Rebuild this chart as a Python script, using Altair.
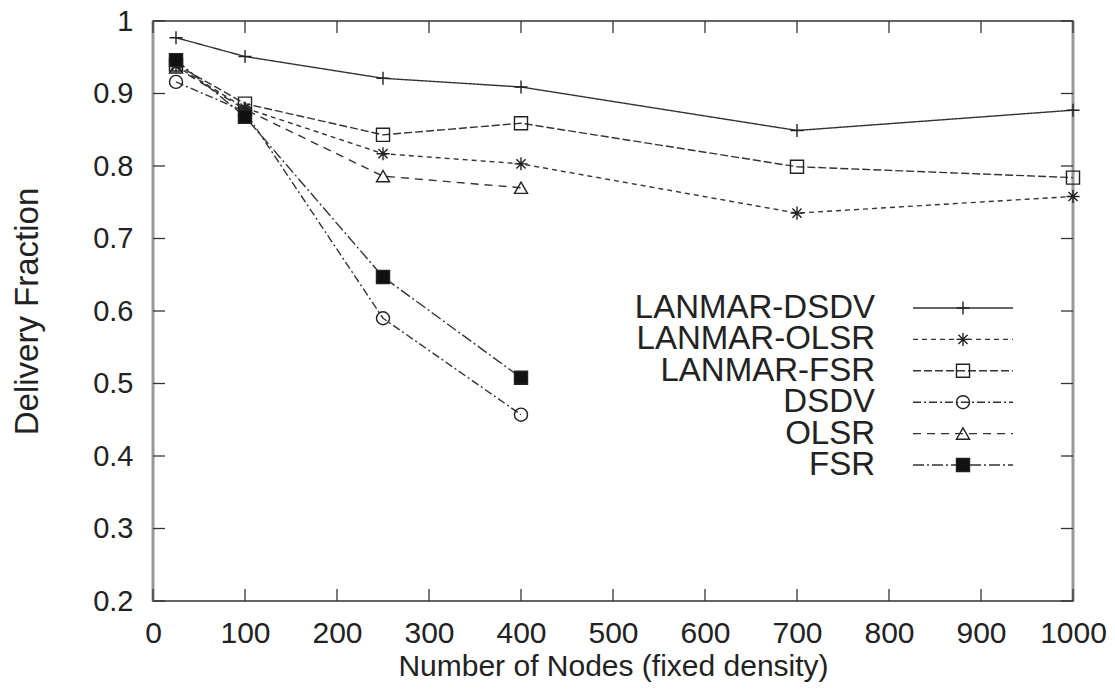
import altair as alt
import pandas as pd

series = ["LANMAR-DSDV", "LANMAR-OLSR", "LANMAR-FSR", "DSDV", "OLSR", "FSR"]
nodes_long = [25, 100, 250, 400, 700, 1000]
nodes_short = [25, 100, 250, 400]
lanmar_dsdv = [0.977, 0.951, 0.921, 0.909, 0.849, 0.877]
lanmar_olsr = [0.938, 0.880, 0.817, 0.803, 0.735, 0.758]
lanmar_fsr = [0.940, 0.886, 0.843, 0.859, 0.799, 0.784]
dsdv = [0.916, 0.875, 0.590, 0.457]
olsr = [0.936, 0.878, 0.786, 0.770]
fsr = [0.946, 0.868, 0.647, 0.508]
x_ticks = [0, 100, 200, 300, 400, 500, 600, 700, 800, 900, 1000]
y_ticks = [0.2, 0.3, 0.4, 0.5, 0.6, 0.7, 0.8, 0.9, 1.0]

rows = []
for name, xs, ys in [
    ("LANMAR-DSDV", nodes_long, lanmar_dsdv),
    ("LANMAR-OLSR", nodes_long, lanmar_olsr),
    ("LANMAR-FSR", nodes_long, lanmar_fsr),
    ("DSDV", nodes_short, dsdv),
    ("OLSR", nodes_short, olsr),
    ("FSR", nodes_short, fsr),
]:
    for xv, yv in zip(xs, ys):
        rows.append({"series": name, "nodes": xv, "frac": yv})
df = pd.DataFrame(rows)
leg_df = pd.DataFrame({"series": series})
xt_df = pd.DataFrame({"t": x_ticks})
yt_df = pd.DataFrame({"t": y_ticks})

W, H = 920, 580
FONT = "Liberation Sans"
INK = "#222"

xscale = alt.Scale(domain=[0, 1000], nice=False)
yscale = alt.Scale(domain=[0.2, 1.0], nice=False)

dash_scale = alt.Scale(domain=series, range=[[1, 0], [5, 4], [8, 3], [8, 3, 2, 3], [8, 6], [11, 3, 2, 3]])
shape_scale = alt.Scale(domain=series, range=[
    "M-1,0H1M0,-1V1",
    "M-1,0H1M0,-1V1M-0.7,-0.7L0.7,0.7M-0.7,0.7L0.7,-0.7",
    "square", "circle", "triangle-up", "square"])
fill_scale = alt.Scale(domain=series, range=["transparent", "transparent", "transparent",
                                             "transparent", "transparent", "#111"])

base = alt.Chart(df)
lines = base.mark_line(strokeWidth=1.4, color="#333").encode(
    x=alt.X("nodes:Q", scale=xscale,
            axis=alt.Axis(values=x_ticks, format="d", labelOverlap=False, labelFlush=False,
                          title="Number of Nodes (fixed density)", ticks=False,
                          domain=False, grid=False, labelPadding=17, labelFontSize=30,
                          titleFontSize=30, titleY=65, titleBaseline="middle")),
    y=alt.Y("frac:Q", scale=yscale,
            axis=alt.Axis(values=y_ticks, format="~g", labelOverlap=False, labelFlush=False,
                          title="Delivery Fraction", ticks=False,
                          domain=False, grid=False, labelPadding=20, labelFontSize=29,
                          titleFontSize=33, titleX=-126, titleBaseline="middle")),
    strokeDash=alt.StrokeDash("series:N", scale=dash_scale, legend=None),
    detail="series:N",
)
points = base.mark_point(size=170, strokeWidth=1.4, stroke="#222", filled=True, opacity=1).encode(
    x=alt.X("nodes:Q", scale=xscale),
    y=alt.Y("frac:Q", scale=yscale),
    shape=alt.Shape("series:N", scale=shape_scale, legend=None),
    fill=alt.Fill("series:N", scale=fill_scale, legend=None),
)

tick_len = 12
xt_bottom = alt.Chart(xt_df).mark_rule(color="#333", strokeWidth=1.3).encode(
    x=alt.X("t:Q", scale=xscale), y=alt.value(H), y2=alt.value(H - tick_len))
xt_top = alt.Chart(xt_df).mark_rule(color="#333", strokeWidth=1.3).encode(
    x=alt.X("t:Q", scale=xscale), y=alt.value(0), y2=alt.value(tick_len))
yt_left = alt.Chart(yt_df).mark_rule(color="#333", strokeWidth=1.3).encode(
    y=alt.Y("t:Q", scale=yscale), x=alt.value(0), x2=alt.value(tick_len))
yt_right = alt.Chart(yt_df).mark_rule(color="#333", strokeWidth=1.3).encode(
    y=alt.Y("t:Q", scale=yscale), x=alt.value(W - tick_len), x2=alt.value(W))
edge_left = alt.Chart(xt_df.head(1)).mark_rule(color="#999", strokeWidth=3).encode(
    x=alt.value(0), y=alt.value(0), y2=alt.value(H))
edge_right = alt.Chart(xt_df.head(1)).mark_rule(color="#999", strokeWidth=3).encode(
    x=alt.value(W), y=alt.value(0), y2=alt.value(H))

main = alt.layer(edge_left, edge_right, xt_bottom, xt_top, yt_left, yt_right, lines, points)

leg_y = alt.Y("series:N", scale=alt.Scale(type="point", domain=series, range=[287, 444], padding=0), axis=None)
leg_base = alt.Chart(leg_df)
leg_text = leg_base.mark_text(align="right", baseline="middle", fontSize=33, font=FONT, color=INK).encode(
    x=alt.value(722), y=leg_y, text="series:N")
leg_line = leg_base.mark_rule(strokeWidth=1.4, color="#333").encode(
    x=alt.value(760), x2=alt.value(860), y=leg_y,
    strokeDash=alt.StrokeDash("series:N", scale=dash_scale, legend=None))
leg_pts = leg_base.mark_point(size=170, strokeWidth=1.4, stroke="#222", filled=True, opacity=1).encode(
    x=alt.value(810), y=leg_y,
    shape=alt.Shape("series:N", scale=shape_scale, legend=None),
    fill=alt.Fill("series:N", scale=fill_scale, legend=None))
legend = alt.layer(leg_line, leg_pts, leg_text)

chart = alt.layer(main, legend).resolve_scale(y="independent").properties(
    width=W, height=H,
    autosize=alt.AutoSizeParams(type="none"),
    padding={"left": 145, "top": 13, "right": 34, "bottom": 84},
    background="white",
).configure_view(stroke="#333", strokeWidth=1.5).configure_axis(
    labelFont=FONT, titleFont=FONT, labelColor=INK, titleColor=INK, titleFontWeight="normal"
)

chart.save("out.html", embed_options={"renderer": "svg", "actions": False})
